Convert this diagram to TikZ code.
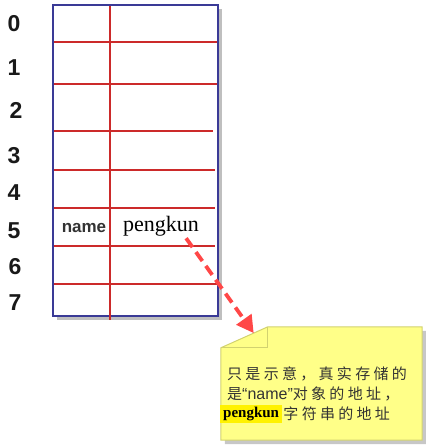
\documentclass[tikz,border=0pt]{standalone}
\usepackage{fontspec}
\setmainfont{Liberation Serif}
\setsansfont{Liberation Sans}
\newfontfamily\cjk[LetterSpace=22]{Noto Sans CJK SC}
\usetikzlibrary{calc}
\usetikzlibrary{arrows.meta}
\definecolor[named]{TabBlue}{HTML}{3A3A96}
\definecolor[named]{TabRed}{HTML}{CC2A2A}
\definecolor[named]{PtrRed}{HTML}{FF4747}
\definecolor[named]{NoteYellow}{HTML}{FFFF88}
\definecolor[named]{NoteEdge}{HTML}{D2D270}
\definecolor[named]{MarkYellow}{HTML}{FFF200}
\newcommand{\slotfont}{\sffamily\bfseries\fontsize{23}{23}\selectfont}
\newcommand{\notefont}{\cjk\fontsize{15}{17}\selectfont}

\begin{document}
\begin{tikzpicture}[x=1pt,y=-1pt]
    \useasboundingbox (0,0) rectangle (426,448);
    \tikzset{
      grid/.style={TabRed,line width=2.6pt},
      slot/.style={inner sep=0pt,font=\slotfont,text=black!90},
      pointer/.style={PtrRed,line width=3.8pt,dash pattern=on 11pt off 6pt,
        -{Triangle[length=17pt,width=18pt]}},
      noteline/.style={anchor=west,inner sep=0pt,text=black!80,font=\notefont}}

    % The memory table
    \begin{scope}
      \fill[black!25] (57,9) rectangle (222,320);
      \fill[white] (53,5) rectangle (218,316);
      \draw[grid] (53, 42) -- (218, 42);
      \draw[grid] (53, 84) -- (218, 84);
      \draw[grid] (53,131) -- (213,131);
      \draw[grid] (53,170) -- (215,170);
      \draw[grid] (53,208) -- (215,208);
      \draw[grid] (53,246) -- (215,246);
      \draw[grid] (53,284) -- (218,284);
      \draw[TabBlue,line width=1.8pt] (53,5) rectangle (218,316);
      \draw[grid] (110,6) -- (110,320);
    \end{scope}

    % Slot numbers
    \node[slot] (n0) at (14, 24) {0};
    \node[slot] (n1) at (14, 68) {1};
    \node[slot] (n2) at (16,110) {2};
    \node[slot] (n3) at (14,156) {3};
    \node[slot] (n4) at (14,193) {4};
    \node[slot] (n5) at (14,231) {5};
    \node[slot] (n6) at (15,267) {6};
    \node[slot] (n7) at (15,303) {7};

    % Contents of slot 5
    \node[font=\sffamily\bfseries\fontsize{17}{17}\selectfont,text=black!80,inner sep=0pt] (key) at (84,228) {name};
    \node[font=\fontsize{22}{22}\selectfont,fill=white,inner sep=1pt] (val) at (161,226) {pengkun};

    % The note with its folded corner
    \node[minimum width=201pt,minimum height=113pt,inner sep=0pt] (note) at (321.5,383.5) {};
    \coordinate (fold) at ($(note.north west)+(47,0)$);
    \coordinate (flap) at ($(note.north west)+(0,21)$);
    \fill[black!22] ($(flap)+(4,4)$) -- ($(fold)+(4,4)$) -- ($(note.north east)+(4,4)$)
      -- ($(note.south east)+(4,4)$) -- ($(note.south west)+(4,4)$) -- cycle;
    \filldraw[fill=NoteYellow,draw=NoteEdge,line width=1pt]
      (flap) -- (fold) -- (note.north east) -- (note.south east) -- (note.south west) -- cycle;
    \draw[NoteEdge,line width=0.8pt] (fold) -- (fold |- flap) -- (flap);

    \node[noteline] (l1) at (227,374) {只是示意，真实存储的};
    \node[noteline] (l2) at (227,394) {是{\sffamily\fontsize{16}{16}\selectfont“name”}对象的地址，};
    \node[noteline,fill=MarkYellow,inner xsep=3pt,inner ysep=2pt,text=black,
      font=\rmfamily\bfseries\fontsize{15}{15}\selectfont] (mark) at (220,414) {pengkun};
    \node[noteline] (l3) at ([xshift=1pt]mark.east) {字符串的地址};

    % Pointer from the value to the note
    \coordinate (tip) at ($(flap)!0.7!(fold)$);
    \draw[pointer] ([xshift=-14pt,yshift=-1pt]val.south east) -- (tip);
\end{tikzpicture}
\end{document}
